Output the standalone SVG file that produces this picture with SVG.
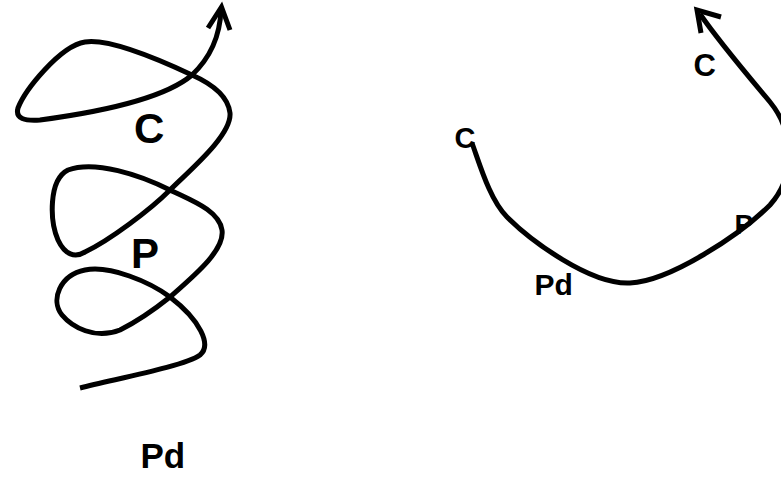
<svg xmlns="http://www.w3.org/2000/svg" width="781" height="477" viewBox="0 0 781 477">
<style>
.ln{fill:none;stroke:#000;stroke-width:5;stroke-linejoin:round}
.hd{fill:none;stroke:#000;stroke-width:5;stroke-linejoin:miter;stroke-linecap:butt}
.lb{font-family:"Liberation Sans",Arial,sans-serif;font-weight:bold;fill:#000}
</style>
<rect width="781" height="477" fill="#fff"/>
<g id="labels">
<g id="left-C"><text class="lb" x="134" y="142.5" font-size="42">C</text></g>
<g id="left-P"><text class="lb" x="131" y="267.5" font-size="42">P</text></g>
<g id="left-Pd"><text class="lb" x="140.5" y="468" font-size="35">Pd</text></g>
<g id="right-C1"><text class="lb" x="454.5" y="147.8" font-size="29">C</text></g>
<g id="right-C2"><text class="lb" x="693.5" y="76" font-size="31">C</text></g>
<g id="right-P"><text class="lb" x="734.5" y="234" font-size="28">P</text></g>
<g id="right-Pd"><text class="lb" x="534.5" y="295" font-size="30">Pd</text></g>
</g>
<g id="connectors">
<path class="ln" d="M80,388 C120,378 185,366 200,355 C212,345 200,320 170,297 C150,282 110,265 85,270 C60,275 50,300 62,315 C72,327 95,340 120,330 C140,320 160,305 170,297 C195,275 225,250 222,230 C219,210 190,200 170,190 C140,175 95,160 68,170 C48,180 50,222 58,240 C65,255 75,258 85,252 C110,240 150,210 170,190 C190,170 232,135 230,113 C228,95 210,83 192,75 C160,60 110,38 85,42 C60,46 25,90 18,108 C15,119 25,121 40,120 C100,112 165,98 192,75 C210,58 220,35 221,10"/>
<path class="hd" d="M208,28 L221.5,7 L230,30"/>
<path class="ln" d="M472,143 C480,165 490,200 507,217 C530,240 590,285 630,283 C670,281 740,235 770,205 C797,175 793,130 770,102 C750,78 720,43 700,14"/>
<path class="hd" d="M701,33 L697,10 L721,17"/>
</g>
</svg>
